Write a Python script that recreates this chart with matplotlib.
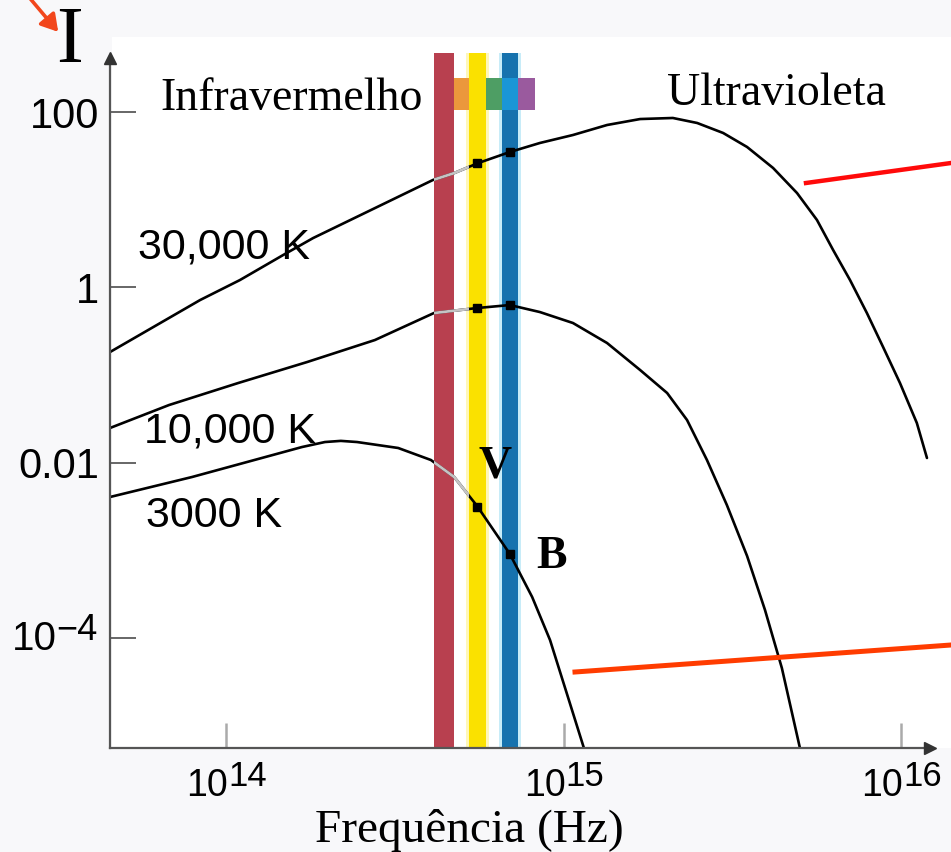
import numpy as np
import matplotlib
matplotlib.use("Agg")
import matplotlib.pyplot as plt
from matplotlib.transforms import blended_transform_factory
from matplotlib.patches import Rectangle, FancyArrowPatch
from matplotlib.lines import Line2D

# ---------------- data ----------------
# log10 frequency (Hz) and log10 intensity along each blackbody curve
curve_labels = ["30,000 K", "10,000 K", "3000 K"]

logf_30000 = [13.656, 13.923, 14.041, 14.169, 14.258, 14.613, 14.676, 14.747,
              14.841, 14.930, 15.028, 15.129, 15.227, 15.324, 15.396, 15.473,
              15.544, 15.621, 15.692, 15.751, 15.799, 15.849, 15.899, 15.947,
              15.997, 16.047, 16.077]
logI_30000 = [-0.737, -0.144, 0.084, 0.369, 0.563, 1.225, 1.304, 1.418,
              1.544, 1.647, 1.738, 1.852, 1.920, 1.932, 1.875, 1.761,
              1.601, 1.362, 1.076, 0.769, 0.426, 0.084, -0.292, -0.680,
              -1.090, -1.546, -1.945]

logf_10000 = [13.656, 13.831, 14.036, 14.240, 14.441, 14.616, 14.744, 14.841,
              14.930, 15.028, 15.129, 15.227, 15.307, 15.366, 15.425, 15.484,
              15.544, 15.597, 15.647, 15.701]
logI_10000 = [-1.603, -1.341, -1.090, -0.851, -0.600, -0.292, -0.235, -0.201,
              -0.281, -0.406, -0.634, -0.942, -1.204, -1.512, -1.968, -2.481,
              -3.063, -3.678, -4.340, -5.260]

logf_3000 = [13.656, 13.899, 14.225, 14.293, 14.340, 14.388, 14.510, 14.607,
             14.676, 14.744, 14.841, 14.907, 14.960, 15.013, 15.061]
logI_3000 = [-2.390, -2.162, -1.820, -1.763, -1.750, -1.763, -1.831, -1.968,
             -2.162, -2.493, -3.040, -3.530, -4.021, -4.670, -5.260]

# coloured filter bands (Hz)
band_names = ["R", "V", "B"]
band_lo_hz = [4.13e14, 5.25e14, 6.58e14]
band_hi_hz = [4.72e14, 5.89e14, 7.33e14]
band_colors = ["#b8404f", "#fae100", "#1672ae"]
band_halo = [None, "#fff7b8", "#c8ecf8"]

# visible spectrum strip (Hz)
spectrum_edges_hz = [4.72e14, 5.25e14, 5.89e14, 6.58e14, 7.33e14, 8.24e14]
spectrum_colors = ["#eb983c", "#fae100", "#4e9e64", "#1a96d6", "#9a5a9e"]

# marker frequencies (centres of V and B bands)
marker_logf = [14.745, 14.841]

yticks = [1e-4, 1e-2, 1, 1e2]
ytick_labels = ["", "0.01", "1", "100"]
xtick_exps = [14, 15, 16]

# ---------------- figure ----------------
W, H = 951, 852
fig = plt.figure(figsize=(W / 100, H / 100), dpi=100)
fig.patch.set_facecolor("#f8f8fa")

def fx(px):
    return px / W

def fy(py):
    return 1 - py / H

# white plotting panel behind the axes
fig.add_artist(Rectangle((fx(112), fy(748)), fx(951) - fx(112), fy(37) - fy(748),
                         transform=fig.transFigure, facecolor="white",
                         edgecolor="none", zorder=0))

ax_left, ax_right, ax_top, ax_bot = 110, 930, 53, 748
ax = fig.add_axes([fx(ax_left), fy(ax_bot), fx(ax_right) - fx(ax_left),
                   fy(ax_top) - fy(ax_bot)])
ax.set_facecolor("none")
ax.set_xscale("log")
ax.set_yscale("log")
ax.set_xlim(10 ** 13.656, 10 ** 16.086)
ax.set_ylim(10 ** -5.252, 10 ** 2.673)

# bands
for lo, hi, c, halo in zip(band_lo_hz, band_hi_hz, band_colors, band_halo):
    if halo:
        ax.axvspan(lo / 1.02, hi * 1.02, color=halo, lw=0, zorder=1)
    ax.axvspan(lo, hi, color=c, lw=0, zorder=2)

# spectrum strip
for lo, hi, c in zip(spectrum_edges_hz[:-1], spectrum_edges_hz[1:], spectrum_colors):
    ax.fill_between([lo, hi], 10 ** 2.023, 10 ** 2.389, color=c, lw=0, zorder=3)

# region where curves look washed out (red band up to the yellow band)
gray_clip = Rectangle((band_lo_hz[0], 10 ** -6), band_lo_hz[1] - band_lo_hz[0],
                      10 ** 4, transform=ax.transData)

# curves
curves = [(logf_30000, logI_30000), (logf_10000, logI_10000), (logf_3000, logI_3000)]
for lf, li in curves:
    xs, ys = 10 ** np.array(lf), 10 ** np.array(li)
    ax.plot(xs, ys, color="black", lw=1.9, zorder=4, solid_capstyle="round",
            solid_joinstyle="round")
    g, = ax.plot(xs, ys, color="#c4c4c4", lw=2.0, zorder=4.5)
    g.set_clip_path(gray_clip)
    my = np.interp(marker_logf, lf, li)
    ax.plot(10 ** np.array(marker_logf), 10 ** my, ls="none", marker="s",
            ms=6, color="black", zorder=5)

# axes styling
for s in ["top", "right"]:
    ax.spines[s].set_visible(False)
for s in ["left", "bottom"]:
    ax.spines[s].set_color("#555555")
    ax.spines[s].set_linewidth(1.6)
    ax.spines[s].set_zorder(6)
ax.spines["left"].set_bounds(10 ** -5.252, 10 ** 2.616)
# arrow heads
ax.plot([0], [10 ** 2.616], marker="^", ms=9, color="#333333", clip_on=False,
        transform=blended_transform_factory(ax.transAxes, ax.transData), zorder=7)
ax.plot([1], [0], marker=">", ms=9, color="#333333", clip_on=False,
        transform=ax.transAxes, zorder=7)

ax.xaxis.set_minor_locator(matplotlib.ticker.NullLocator())
ax.yaxis.set_minor_locator(matplotlib.ticker.NullLocator())
ax.set_yticks(yticks)
ax.set_yticklabels(ytick_labels, fontsize=30, family="Liberation Sans")
ax.tick_params(axis="y", direction="in", length=19, width=1.4, color="#666666",
               pad=8)
xt = [10.0 ** e for e in xtick_exps]
ax.set_xticks(xt)
ax.set_xticklabels([""] * len(xt))
ax.tick_params(axis="x", direction="in", length=18, width=1.8, color="#aaaaaa")

# power-of-ten labels
tr = blended_transform_factory(ax.transData, ax.transAxes)
for e in xtick_exps:
    ax.annotate("10", xy=(10.0 ** e, 0), xycoords=tr, xytext=(2, -48),
                textcoords="offset pixels", ha="right", va="baseline",
                fontsize=27, family="Liberation Sans", annotation_clip=False)
    ax.annotate(str(e), xy=(10.0 ** e, 0), xytext=(2, -38), xycoords=tr,
                textcoords="offset pixels", ha="left", va="baseline",
                fontsize=25, family="Liberation Sans", annotation_clip=False)

try4 = blended_transform_factory(ax.transAxes, ax.transData)
ax.annotate("10", xy=(0, 1e-4), xycoords=try4, xytext=(-53, -12),
            textcoords="offset pixels", ha="right", va="baseline",
            fontsize=29, family="Liberation Sans", annotation_clip=False)
ax.annotate("\u22124", xy=(0, 1e-4), xycoords=try4, xytext=(-12, -2),
            textcoords="offset pixels", ha="right", va="baseline",
            fontsize=26, family="Liberation Sans", annotation_clip=False)

# curve labels
label_pos = [(13.739, 0.335), (13.756, -1.774), (13.763, -2.732)]
for txt, (lx, ly) in zip(curve_labels, label_pos):
    ax.text(10 ** lx, 10 ** ly, txt, fontsize=31, family="Liberation Sans",
            ha="left", va="baseline", zorder=8)

# V and B
ax.text(10 ** 14.796, 10 ** -2.173, "V", fontsize=33, family="Liberation Serif",
        weight="bold", ha="center", va="baseline", zorder=8)
ax.text(10 ** 14.963, 10 ** -3.200, "B", fontsize=33, family="Liberation Serif",
        weight="bold", ha="center", va="baseline", zorder=8)

# region names
fig.text(fx(160), fy(110), "Infravermelho", fontsize=33, family="Liberation Serif",
         ha="left", va="baseline")
fig.text(fx(667), fy(105), "Ultravioleta", fontsize=33, family="Liberation Serif",
         ha="left", va="baseline")
fig.text(fx(469), fy(842), "Frequência (Hz)", fontsize=34, family="Liberation Serif",
         ha="center", va="baseline")
fig.text(fx(70), fy(62), "I", fontsize=58, family="Liberation Serif",
         ha="center", va="baseline")

# red annotation strokes
fig.add_artist(FancyArrowPatch(
    (fx(28), fy(-4)), (fx(60), fy(34)), transform=fig.transFigure,
    arrowstyle="-|>,head_length=10,head_width=6", color="#f2461c", lw=2.6,
    mutation_scale=1))
fig.add_artist(Line2D([fx(806), fx(951)], [fy(183), fy(163)],
                      transform=fig.transFigure, color="#ff0a0a", lw=3.2))
fig.add_artist(Line2D([fx(575), fx(951)], [fy(672), fy(645)],
                      transform=fig.transFigure, color="#ff3c00", lw=3.6))

fig.savefig("out.png", dpi=100, facecolor=fig.get_facecolor())
